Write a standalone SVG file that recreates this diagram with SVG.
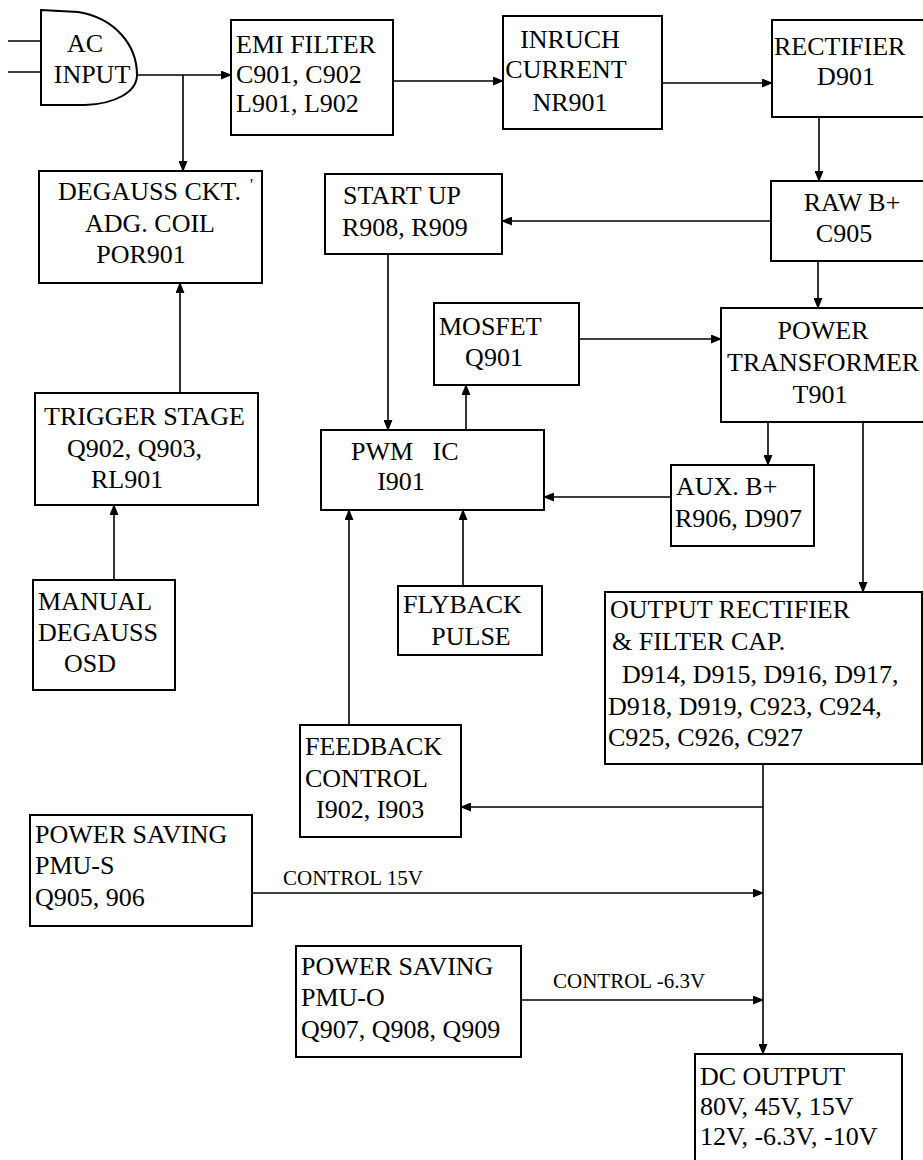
<svg xmlns="http://www.w3.org/2000/svg" width="923" height="1160" viewBox="0 0 923 1160">
<style>
.b{fill:none;stroke:#000;stroke-width:2}
.t{font-family:'Liberation Serif','Times New Roman','DejaVu Serif',serif;font-size:26px;fill:#000}
.m{text-anchor:middle}
.s{font-family:'Liberation Serif','Times New Roman','DejaVu Serif',serif;font-size:21px;fill:#000}
.l{fill:none;stroke:#000;stroke-width:1.6}
.a{marker-end:url(#ah)}
</style>
<defs>
<marker id="ah" markerWidth="11" markerHeight="9" refX="10" refY="4.5" orient="auto" markerUnits="userSpaceOnUse">
<path d="M0,0 L11,4.5 L0,9 Z" fill="#000"/>
</marker>
</defs>
<rect width="923" height="1160" fill="#fff"/>

<g id="connectors">
<path class="l" d="M8,41 H41 M8,72 H41"/>
<path class="l a" d="M137,75 H231"/>
<path class="l a" d="M183,75 V171"/>
<path class="l a" d="M393,81 H503"/>
<path class="l a" d="M662,83 H772"/>
<path class="l a" d="M819,117 V181"/>
<path class="l a" d="M771,221 H502"/>
<path class="l a" d="M818,261 V308"/>
<path class="l a" d="M579,339 H721"/>
<path class="l a" d="M388,254 V430"/>
<path class="l a" d="M466,430 V385"/>
<path class="l a" d="M768,422 V465"/>
<path class="l a" d="M671,497 H544"/>
<path class="l a" d="M863,422 V592"/>
<path class="l a" d="M463,586 V510"/>
<path class="l a" d="M349,725 V510"/>
<path class="l a" d="M180,393 V283"/>
<path class="l a" d="M114,580 V505"/>
<path class="l a" d="M763,764 V1054"/>
<path class="l a" d="M763,807 H461"/>
<path class="l a" d="M252,893 H763"/>
<path class="l a" d="M521,1000 H763"/>
<text class="s" x="283" y="885">CONTROL 15V</text>
<text class="s" x="553" y="988">CONTROL -6.3V</text>
</g>

<g id="ac-input">
<path class="b" d="M41,10 L78,12 C115,18 137,45 137,75 C137,92 115,104 85,105 L41,105 Z"/>
<text class="t m" x="85" y="52">AC</text>
<text class="t m" x="92" y="83">INPUT</text>
</g>

<g id="emi-filter">
<rect class="b" x="231" y="20" width="162" height="115"/>
<text class="t" x="236" y="53">EMI FILTER</text>
<text class="t" x="236" y="83">C901, C902</text>
<text class="t" x="236" y="112">L901, L902</text>
</g>

<g id="inrush">
<rect class="b" x="503" y="16" width="159" height="113"/>
<text class="t m" x="570" y="48">INRUCH</text>
<text class="t m" x="566" y="78">CURRENT</text>
<text class="t m" x="570" y="111">NR901</text>
</g>

<g id="rectifier">
<rect class="b" x="772" y="20" width="160" height="97"/>
<text class="t" x="774" y="55">RECTIFIER</text>
<text class="t m" x="846" y="85">D901</text>
</g>

<g id="raw-b">
<rect class="b" x="771" y="181" width="160" height="80"/>
<text class="t m" x="852" y="211">RAW B+</text>
<text class="t m" x="844" y="242">C905</text>
</g>

<g id="start-up">
<rect class="b" x="325" y="174" width="177" height="80"/>
<text class="t" x="343" y="204">START UP</text>
<text class="t" x="342" y="236">R908, R909</text>
</g>

<g id="power-transformer">
<rect class="b" x="721" y="308" width="210" height="114"/>
<text class="t m" x="823" y="339">POWER</text>
<text class="t" x="727" y="371">TRANSFORMER</text>
<text class="t m" x="820" y="403">T901</text>
</g>

<g id="mosfet">
<rect class="b" x="434" y="303" width="145" height="82"/>
<text class="t" x="439" y="335">MOSFET</text>
<text class="t m" x="494" y="366">Q901</text>
</g>

<g id="pwm-ic">
<rect class="b" x="321" y="430" width="223" height="80"/>
<text class="t" x="351" y="460" xml:space="preserve">PWM   IC</text>
<text class="t m" x="401" y="490">I901</text>
</g>

<g id="aux-b">
<rect class="b" x="671" y="465" width="143" height="81"/>
<text class="t" x="676" y="495">AUX. B+</text>
<text class="t" x="675" y="527">R906, D907</text>
</g>

<g id="degauss">
<rect class="b" x="39" y="171" width="223" height="112"/>
<text class="t" x="58" y="200">DEGAUSS CKT.</text>
<text class="t" x="250" y="190" style="font-size:16px">'</text>
<text class="t m" x="150" y="232">ADG. COIL</text>
<text class="t m" x="141" y="263">POR901</text>
</g>

<g id="trigger">
<rect class="b" x="35" y="393" width="223" height="112"/>
<text class="t" x="44" y="425">TRIGGER STAGE</text>
<text class="t" x="67" y="457">Q902, Q903,</text>
<text class="t" x="91" y="488">RL901</text>
</g>

<g id="manual-degauss">
<rect class="b" x="33" y="580" width="142" height="110"/>
<text class="t" x="38" y="610">MANUAL</text>
<text class="t" x="38" y="641">DEGAUSS</text>
<text class="t" x="64" y="672">OSD</text>
</g>

<g id="flyback">
<rect class="b" x="398" y="586" width="144" height="69"/>
<text class="t" x="403" y="613">FLYBACK</text>
<text class="t m" x="471" y="645">PULSE</text>
</g>

<g id="output-rectifier">
<rect class="b" x="605" y="592" width="317" height="172"/>
<text class="t" x="610" y="618">OUTPUT RECTIFIER</text>
<text class="t" x="612" y="650">&amp; FILTER CAP.</text>
<text class="t" x="622" y="683">D914, D915, D916, D917,</text>
<text class="t" x="608" y="715">D918, D919, C923, C924,</text>
<text class="t" x="608" y="746">C925, C926, C927</text>
</g>

<g id="feedback">
<rect class="b" x="300" y="725" width="161" height="112"/>
<text class="t" x="305" y="755">FEEDBACK</text>
<text class="t" x="305" y="787">CONTROL</text>
<text class="t" x="316" y="818">I902, I903</text>
</g>

<g id="power-saving-s">
<rect class="b" x="30" y="815" width="222" height="111"/>
<text class="t" x="35" y="843">POWER SAVING</text>
<text class="t" x="35" y="874">PMU-S</text>
<text class="t" x="35" y="906">Q905, 906</text>
</g>

<g id="power-saving-o">
<rect class="b" x="296" y="946" width="225" height="111"/>
<text class="t" x="301" y="975">POWER SAVING</text>
<text class="t" x="301" y="1006">PMU-O</text>
<text class="t" x="301" y="1038">Q907, Q908, Q909</text>
</g>

<g id="dc-output">
<rect class="b" x="695" y="1054" width="207" height="120"/>
<text class="t" x="700" y="1085">DC OUTPUT</text>
<text class="t" x="700" y="1115">80V, 45V, 15V</text>
<text class="t" x="700" y="1145">12V, -6.3V, -10V</text>
</g>
</svg>
